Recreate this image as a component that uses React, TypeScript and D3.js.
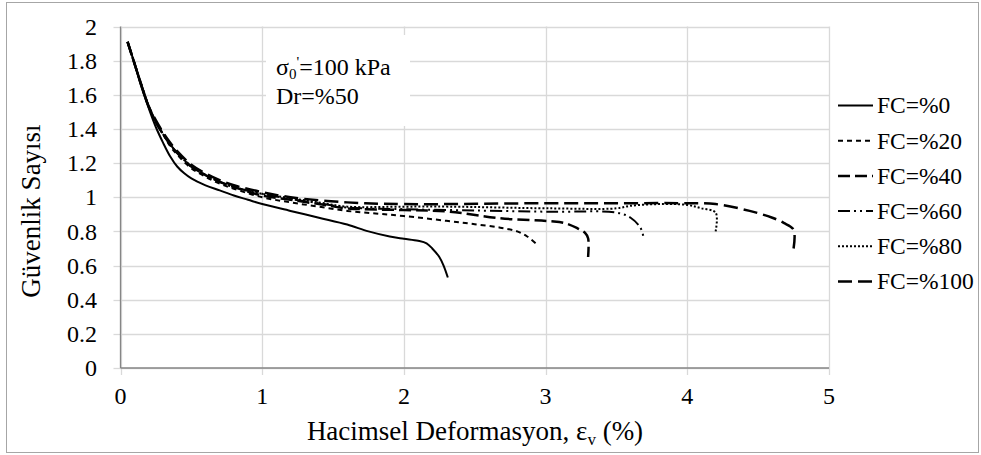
import React from "react";
import * as d3 from "d3";

const xTicks = [0, 1, 2, 3, 4, 5];
const yTicks = [0, 0.2, 0.4, 0.6, 0.8, 1, 1.2, 1.4, 1.6, 1.8, 2];
const yTickLabels = ["0", "0.2", "0.4", "0.6", "0.8", "1", "1.2", "1.4", "1.6", "1.8", "2"];
const seriesNames = ["FC=%0", "FC=%20", "FC=%40", "FC=%60", "FC=%80", "FC=%100"];

const fc0: [number, number][] = [
  [0.05, 1.91], [0.1, 1.78], [0.15, 1.64], [0.2, 1.52], [0.25, 1.41], [0.3, 1.32], [0.35, 1.24],
  [0.4, 1.18], [0.45, 1.14], [0.5, 1.11], [0.6, 1.07], [0.7, 1.04], [0.8, 1.01], [0.9, 0.985],
  [1.0, 0.96], [1.2, 0.92], [1.4, 0.88], [1.6, 0.84], [1.75, 0.8], [1.9, 0.77], [2.0, 0.757],
  [2.1, 0.745], [2.16, 0.73], [2.2, 0.7], [2.25, 0.65], [2.28, 0.6], [2.31, 0.53],
];
const fc20: [number, number][] = [
  [0.05, 1.91], [0.1, 1.78], [0.15, 1.65], [0.2, 1.53], [0.25, 1.44], [0.3, 1.37], [0.35, 1.3],
  [0.4, 1.25], [0.5, 1.17], [0.6, 1.12], [0.7, 1.08], [0.8, 1.05], [1.0, 1.0], [1.2, 0.97],
  [1.4, 0.945], [1.6, 0.92], [1.8, 0.905], [2.0, 0.89], [2.3, 0.862], [2.5, 0.842], [2.68, 0.822],
  [2.8, 0.8], [2.87, 0.77], [2.93, 0.73],
];
const fc40: [number, number][] = [
  [0.05, 1.91], [0.1, 1.78], [0.15, 1.65], [0.2, 1.53], [0.25, 1.44], [0.3, 1.37], [0.35, 1.31],
  [0.4, 1.26], [0.5, 1.18], [0.6, 1.13], [0.7, 1.09], [0.8, 1.06], [1.0, 1.01], [1.2, 0.985],
  [1.4, 0.96], [1.6, 0.935], [2.0, 0.925], [2.32, 0.916], [2.68, 0.877], [3.03, 0.86],
  [3.13, 0.85], [3.22, 0.82], [3.28, 0.79], [3.3, 0.76], [3.3, 0.65],
];
const fc60: [number, number][] = [
  [0.05, 1.91], [0.1, 1.78], [0.15, 1.65], [0.2, 1.53], [0.25, 1.44], [0.3, 1.37], [0.35, 1.31],
  [0.4, 1.26], [0.5, 1.18], [0.6, 1.13], [0.7, 1.09], [0.8, 1.06], [1.0, 1.02], [1.2, 0.99],
  [1.4, 0.965], [1.6, 0.94], [2.0, 0.93], [2.32, 0.925], [3.03, 0.915], [3.5, 0.91],
  [3.6, 0.88], [3.67, 0.82], [3.69, 0.77],
];
const fc80: [number, number][] = [
  [0.05, 1.91], [0.1, 1.78], [0.15, 1.65], [0.2, 1.53], [0.25, 1.44], [0.3, 1.37], [0.35, 1.31],
  [0.4, 1.26], [0.5, 1.18], [0.6, 1.13], [0.7, 1.09], [0.8, 1.06], [1.0, 1.02], [1.2, 0.995],
  [1.4, 0.97], [1.6, 0.945], [2.0, 0.945], [2.32, 0.945], [3.03, 0.935], [3.5, 0.935],
  [3.6, 0.95], [3.8, 0.96], [4.0, 0.955], [4.1, 0.935], [4.2, 0.91], [4.2, 0.8],
];
const fc100: [number, number][] = [
  [0.05, 1.91], [0.1, 1.78], [0.15, 1.65], [0.2, 1.53], [0.25, 1.45], [0.3, 1.38], [0.35, 1.32],
  [0.4, 1.27], [0.5, 1.19], [0.6, 1.14], [0.7, 1.1], [0.8, 1.07], [1.0, 1.03], [1.2, 1.0],
  [1.6, 0.97], [2.0, 0.96], [3.0, 0.965], [3.5, 0.965], [4.0, 0.965], [4.2, 0.96],
  [4.44, 0.92], [4.6, 0.88], [4.68, 0.85], [4.75, 0.81], [4.75, 0.7],
];

const allSeries = [fc0, fc20, fc40, fc60, fc80, fc100];
const dashes = ["", "5,4", "12,5", "12,4,2,4,2,4", "2,2", "14,6"];
const widths = [2, 2, 2.5, 2, 2, 2.5];

const FONT = "Liberation Serif, Times New Roman, Times, serif";

export default function App() {
  const W = 981, H = 455;
  const L = 120.5, R = 829, T = 26.5, B = 368;
  const x = d3.scaleLinear().domain([0, 5]).range([L, R]);
  const y = d3.scaleLinear().domain([0, 2]).range([B, T]);
  const line = d3
    .line<[number, number]>()
    .x((d) => x(d[0]))
    .y((d) => y(d[1]))
    .curve(d3.curveCatmullRom.alpha(0.5));
  const legendY0 = 105.5;
  const legendStep = 35.2;
  const fs = 24;
  const titleFs = 27;

  return (
    <svg width={W} height={H} style={{ position: "absolute", left: 0, top: 0 }}>
      <rect x={0} y={0} width={W} height={H} fill="#fff" />
      <rect x={6.5} y={2.5} width={972} height={450} fill="#fff" stroke="#a6a6a6" strokeWidth={1} />
      {yTicks.map((t) => (
        <line key={"gy" + t} x1={L} x2={R} y1={Math.round(y(t)) + 0.5} y2={Math.round(y(t)) + 0.5} stroke="#d9d9d9" strokeWidth={1.3} />
      ))}
      {xTicks.map((t) => (
        <line key={"gx" + t} x1={Math.round(x(t)) + 0.5} x2={Math.round(x(t)) + 0.5} y1={T} y2={B} stroke="#d9d9d9" strokeWidth={1.3} />
      ))}
      {yTicks.map((t) => (
        <line key={"ty" + t} x1={L - 7} x2={L} y1={Math.round(y(t)) + 0.5} y2={Math.round(y(t)) + 0.5} stroke="#d9d9d9" strokeWidth={1.3} />
      ))}
      {xTicks.map((t) => (
        <line key={"tx" + t} x1={Math.round(x(t)) + 0.5} x2={Math.round(x(t)) + 0.5} y1={B} y2={B + 7} stroke="#d9d9d9" strokeWidth={1.3} />
      ))}
      <line x1={L} x2={L} y1={T} y2={B} stroke="#868686" strokeWidth={1.3} />
      <line x1={L} x2={R} y1={B} y2={B} stroke="#868686" strokeWidth={1.3} />
      <rect x={266} y={35} width={144} height={91} fill="#fff" />
      <text x={276} y={75} fontSize={fs} fontFamily={FONT} fill="#000">
        σ<tspan fontSize={15} dy={4}>0</tspan>
        <tspan dy={-12} fontSize={15}>'</tspan>
        <tspan dy={8}>=100 kPa</tspan>
      </text>
      <text x={276} y={104} fontSize={fs} fontFamily={FONT} fill="#000">Dr=%50</text>
      {allSeries.map((s, i) => (
        <path key={"s" + i} d={line(s) || ""} fill="none" stroke="#000" strokeWidth={widths[i]} strokeDasharray={dashes[i] || undefined} />
      ))}
      {yTicks.map((t, i) => (
        <text key={"yl" + t} x={97} y={y(t)} dy="0.34em" textAnchor="end" fontSize={fs} fontFamily={FONT} fill="#000">
          {yTickLabels[i]}
        </text>
      ))}
      {xTicks.map((t) => (
        <text key={"xl" + t} x={x(t)} y={404} textAnchor="middle" fontSize={fs} fontFamily={FONT} fill="#000">
          {t}
        </text>
      ))}
      <text x={475} y={440} textAnchor="middle" fontSize={titleFs} fontFamily={FONT} fill="#000">
        Hacimsel Deformasyon, ε<tspan fontSize={17} dy={5}>v</tspan>
        <tspan dy={-5}> (%)</tspan>
      </text>
      <text transform={`translate(40,${211}) rotate(-90)`} textAnchor="middle" fontSize={titleFs} fontFamily={FONT} fill="#000">
        Güvenlik Sayısı
      </text>
      {seriesNames.map((n, i) => (
        <g key={"lg" + i}>
          <line x1={838} x2={873} y1={legendY0 + i * legendStep} y2={legendY0 + i * legendStep} stroke="#000" strokeWidth={widths[i]} strokeDasharray={dashes[i] || undefined} />
          <text x={877} y={legendY0 + i * legendStep} dy="0.34em" fontSize={23.5} fontFamily={FONT} fill="#000">
            {n}
          </text>
        </g>
      ))}
    </svg>
  );
}
